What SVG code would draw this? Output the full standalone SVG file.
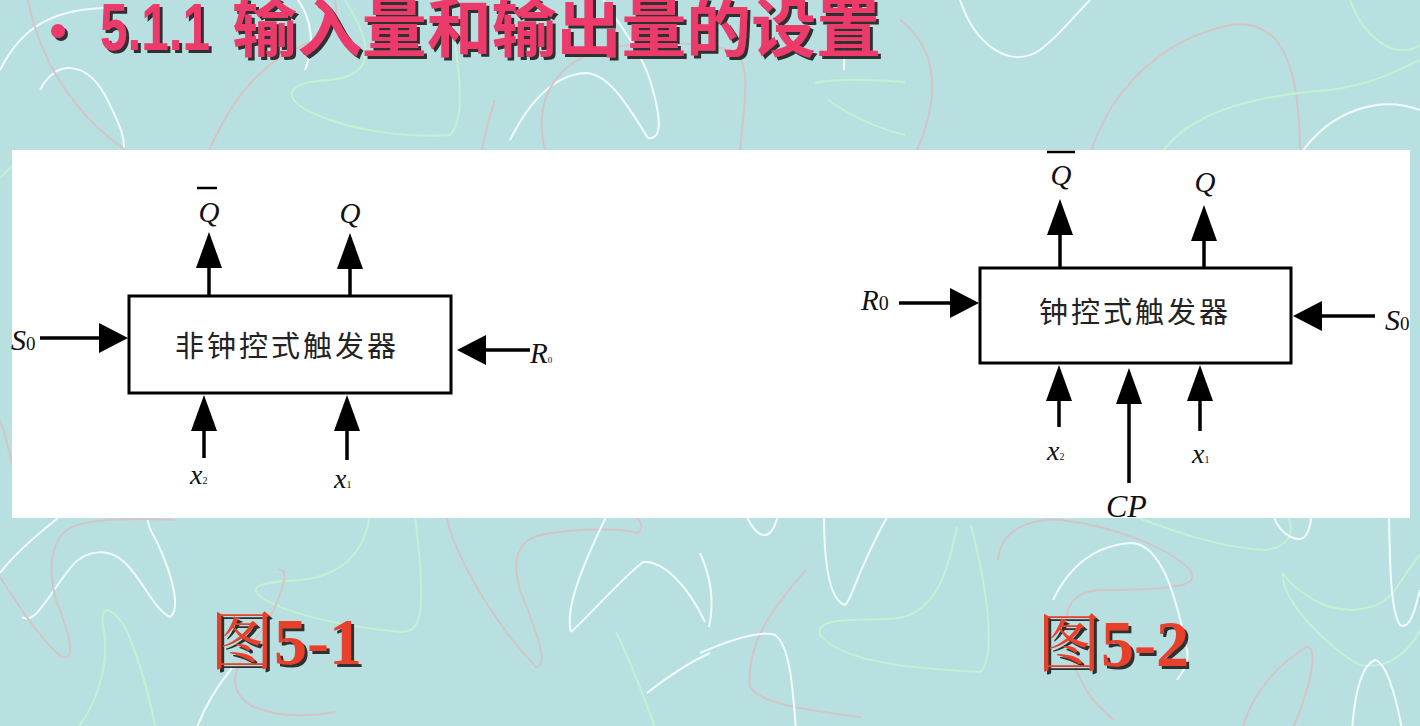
<svg xmlns="http://www.w3.org/2000/svg" width="1420" height="726" viewBox="0 0 1420 726">
  <style>
    .bg-w { fill: none; stroke: #f2fcfc; stroke-width: 2; }
    .bg-p { fill: none; stroke: #d3c5c5; stroke-width: 2; }
    .bg-g { fill: none; stroke: #c3f2d2; stroke-width: 2; }
    .title { font-family: "Liberation Sans", "Noto Sans CJK SC", sans-serif; font-weight: 700; fill: #ec3b6b; }
    .caption { font-weight: 700; fill: #e8402a; }
    .cap-cjk { font-family: "Noto Serif CJK SC", "Noto Sans CJK SC", serif; font-weight: 400; font-size: 64px; }
    .cap-num { font-family: "Liberation Serif", serif; font-size: 66px; }
    .box { fill: #ffffff; stroke: #000; stroke-width: 3; }
    .box-text { font-family: "Noto Sans CJK SC", sans-serif; font-size: 29px; fill: #222; letter-spacing: 3px; }
    .wire { stroke: #000; stroke-width: 3.5; fill: none; }
    .wv { marker-end: url(#head-v); }
    .wh { marker-end: url(#head-h); }
    .sym { font-family: "Liberation Serif", serif; font-style: italic; fill: #111; }
    .sub { font-family: "Liberation Serif", serif; font-style: normal; fill: #111; }
    .bar { stroke: #000; stroke-width: 2.5; }
  </style>
  <defs>
    <marker id="head-v" markerUnits="userSpaceOnUse" markerWidth="36" markerHeight="26" viewBox="0 0 36 26" refX="30" refY="13" orient="auto">
      <path d="M0,0 L36,13 L0,26 Z" fill="#000"/>
    </marker>
    <marker id="head-h" markerUnits="userSpaceOnUse" markerWidth="29" markerHeight="30" viewBox="0 0 29 30" refX="23" refY="15" orient="auto">
      <path d="M0,0 L29,15 L0,30 Z" fill="#000"/>
    </marker>
    <filter id="shadow" x="-5%" y="-20%" width="115%" height="150%">
      <feDropShadow dx="3" dy="3" stdDeviation="0.7" flood-color="#1e1e1e" flood-opacity="0.9"/>
    </filter>
  </defs>

  <!-- page background with loose decorative loops -->
  <rect x="0" y="0" width="1420" height="726" fill="#b8e0e1"/>
  <g id="backdrop">
    <path class="bg-w" d="M0,70 C20,30 50,5 125,8"/>
    <path class="bg-w" d="M40,90 C55,60 85,60 105,95 C120,125 128,140 122,160"/>
    <path class="bg-p" d="M28,0 C40,60 70,110 125,150"/>
    <path class="bg-p" d="M205,160 C230,100 260,60 315,40 C330,35 340,25 335,0"/>
    <path class="bg-w" d="M305,70 C315,45 312,20 298,0"/>
    <path class="bg-g" d="M345,0 C370,40 380,75 330,80 C290,82 278,95 310,112 C350,130 400,138 450,135 C465,120 462,80 448,0"/>
    <path class="bg-w" d="M510,140 C530,100 555,75 585,73 C610,73 630,110 648,138 C662,140 662,120 650,80 C640,50 620,25 603,0"/>
    <path class="bg-p" d="M480,160 C485,130 490,115 495,100"/>
    <path class="bg-p" d="M545,150 C535,110 545,60 615,47 C660,40 720,42 738,55 C750,70 745,100 740,150"/>
    <path class="bg-g" d="M815,83 C840,78 870,80 905,82"/>
    <path class="bg-g" d="M828,100 C850,115 875,128 905,135"/>
    <path class="bg-w" d="M850,0 C846,25 844,45 844,70"/>
    <path class="bg-w" d="M960,0 C975,45 1010,70 1040,50 C1060,35 1075,15 1090,0"/>
    <path class="bg-p" d="M1090,155 C1110,90 1160,40 1230,25 C1280,18 1300,60 1300,155"/>
    <path class="bg-g" d="M1160,155 C1190,110 1260,95 1330,90 C1370,85 1400,70 1420,60"/>
    <path class="bg-w" d="M1300,155 C1330,110 1380,95 1420,110"/>
    <path class="bg-p" d="M915,155 C940,100 940,50 900,20"/>
    <path class="bg-g" d="M1350,0 C1365,40 1395,60 1420,45"/>
    <path class="bg-g" d="M0,178 C5,172 10,168 14,165"/>
    <path class="bg-p" d="M0,420 C8,440 10,460 14,470"/>
    <path class="bg-w" d="M0,573 C10,560 30,540 58,518"/>
    <path class="bg-w" d="M22,617 C35,625 45,600 71,567 C85,550 110,545 129,567 C145,585 155,610 170,617 C180,610 175,580 156,540 C150,530 148,525 147,515"/>
    <path class="bg-p" d="M0,577 C15,600 40,640 62,657 C75,660 72,640 56,600 C48,570 50,540 70,528 C90,518 140,518 175,520"/>
    <path class="bg-g" d="M76,730 C100,700 110,660 103,625 C100,605 110,605 125,627 C140,660 150,700 156,730"/>
    <path class="bg-g" d="M370,515 C365,545 350,575 300,580 C265,582 245,585 262,598 C290,615 350,628 402,632 C425,632 425,600 415,515"/>
    <path class="bg-p" d="M277,570 C290,565 285,590 268,620 C250,650 215,680 250,705 C280,720 320,715 335,712"/>
    <path class="bg-w" d="M196,730 C205,705 218,685 232,668"/>
    <path class="bg-p" d="M446,515 C455,560 500,630 536,667 C548,665 540,640 520,590 C512,560 515,540 545,534 C580,528 620,528 638,533 C645,528 640,520 634,515"/>
    <path class="bg-w" d="M571,632 C565,610 580,570 607,515"/>
    <path class="bg-w" d="M571,632 C590,615 620,580 643,562 C665,560 690,590 705,622"/>
    <path class="bg-g" d="M616,632 C630,660 645,700 656,730"/>
    <path class="bg-w" d="M647,693 C670,675 690,662 710,653"/>
    <path class="bg-w" d="M746,515 C755,535 770,548 778,515"/>
    <path class="bg-w" d="M824,515 C824,560 829,600 845,605 C852,600 853,580 888,515"/>
    <path class="bg-g" d="M957,527 C950,560 940,610 900,618 C860,622 815,615 820,635 C840,660 900,668 980,672 C995,660 990,600 971,525"/>
    <path class="bg-p" d="M998,560 C1000,530 1030,518 1060,520 C1110,525 1170,548 1190,570 C1200,585 1180,590 1100,590 C1070,592 1060,610 1070,650 C1080,690 1100,710 1115,720"/>
    <path class="bg-w" d="M1053,600 C1070,565 1095,545 1132,543 C1160,545 1175,590 1187,650 C1190,665 1180,675 1177,680"/>
    <path class="bg-g" d="M1136,517 C1170,530 1220,548 1265,550 C1290,548 1295,530 1288,517"/>
    <path class="bg-w" d="M1274,517 C1280,535 1300,545 1306,535 C1310,528 1311,520 1311,517"/>
    <path class="bg-g" d="M1283,573 C1290,585 1310,600 1330,607 C1360,615 1385,605 1395,590 C1405,575 1415,560 1420,555"/>
    <path class="bg-g" d="M1283,573 C1280,600 1330,650 1360,665 C1390,670 1410,650 1420,630"/>
    <path class="bg-w" d="M1389,518 C1390,560 1390,610 1400,625 C1410,630 1415,610 1420,590"/>
    <path class="bg-w" d="M1352,730 C1355,690 1362,665 1375,660 C1385,662 1395,690 1402,730"/>
    <path class="bg-p" d="M1242,730 C1250,700 1270,670 1306,647 C1320,645 1310,690 1292,730"/>
    <path class="bg-w" d="M700,553 C710,575 715,600 709,627"/>
    <path class="bg-p" d="M806,570 C780,600 745,640 750,687 C760,705 820,712 861,717"/>
    <path class="bg-w" d="M700,653 C730,640 760,630 775,635 C790,645 793,690 796,730"/>
  </g>

  <!-- heading -->
  <g id="heading" filter="url(#shadow)">
    <circle cx="58" cy="31" r="7" fill="#ec3b6b"/>
    <text class="title" x="100" y="50" font-size="66" textLength="110" lengthAdjust="spacingAndGlyphs">5.1.1</text>
    <text class="title" x="232" y="51" font-size="64" textLength="649" lengthAdjust="spacingAndGlyphs" style="font-family:'Noto Sans CJK SC', sans-serif">输入量和输出量的设置</text>
  </g>

  <!-- white drawing panel -->
  <rect x="12" y="150" width="1398" height="368" fill="#ffffff"/>

  <!-- connectors -->
  <g id="connectors">
    <!-- non-clocked flip-flop -->
    <line class="wire wv" x1="209" y1="296" x2="209" y2="238"/>
    <line class="wire wv" x1="350" y1="296" x2="350" y2="239"/>
    <line class="wire wh" x1="40" y1="338" x2="122" y2="338"/>
    <line class="wire wh" x1="530" y1="350" x2="463" y2="350"/>
    <line class="wire wv" x1="204" y1="458" x2="204" y2="401"/>
    <line class="wire wv" x1="347" y1="460" x2="347" y2="401"/>
    <!-- clocked flip-flop -->
    <line class="wire wv" x1="1060" y1="267" x2="1060" y2="205"/>
    <line class="wire wv" x1="1204" y1="267" x2="1204" y2="211"/>
    <line class="wire wh" x1="899" y1="303" x2="973" y2="303"/>
    <line class="wire wh" x1="1375" y1="316" x2="1299" y2="316"/>
    <line class="wire wv" x1="1059" y1="427" x2="1059" y2="371"/>
    <line class="wire wv" x1="1129" y1="483" x2="1129" y2="374"/>
    <line class="wire wv" x1="1200" y1="431" x2="1200" y2="371"/>
  </g>

  <!-- Fig 5-1: non-clocked flip-flop -->
  <g id="ff-nonclocked">
    <rect class="box" x="129" y="296" width="322" height="97"/>
    <text class="box-text" x="287" y="357" text-anchor="middle">非钟控式触发器</text>
  </g>
  <g id="ff1-labels">
    <line class="bar" x1="197" y1="188" x2="217" y2="188"/>
    <text class="sym" x="209" y="222" font-size="29" text-anchor="middle">Q</text>
    <text class="sym" x="350" y="223" font-size="29" text-anchor="middle">Q</text>
    <text class="sym" x="11" y="350" font-size="30">S<tspan class="sub" font-size="19">0</tspan></text>
    <text class="sym" x="530" y="363" font-size="29">R<tspan class="sub" font-size="9">0</tspan></text>
    <text class="sym" x="190" y="484" font-size="28">x<tspan class="sub" font-size="10">2</tspan></text>
    <text class="sym" x="334" y="488" font-size="28">x<tspan class="sub" font-size="10">1</tspan></text>
  </g>
  <g id="caption-5-1" filter="url(#shadow)">
    <text class="caption" x="210" y="664"><tspan class="cap-cjk">图</tspan><tspan class="cap-num">5-1</tspan></text>
  </g>

  <!-- Fig 5-2: clocked flip-flop -->
  <g id="ff-clocked">
    <rect class="box" x="980" y="268" width="311" height="95"/>
    <text class="box-text" x="1135" y="323" text-anchor="middle">钟控式触发器</text>
  </g>
  <g id="ff2-labels">
    <line class="bar" x1="1047" y1="152" x2="1075" y2="152"/>
    <text class="sym" x="1061" y="185" font-size="29" text-anchor="middle">Q</text>
    <text class="sym" x="1205" y="192" font-size="29" text-anchor="middle">Q</text>
    <text class="sym" x="861" y="310" font-size="29">R<tspan class="sub" font-size="20">0</tspan></text>
    <text class="sym" x="1385" y="330" font-size="30">S<tspan class="sub" font-size="19">0</tspan></text>
    <text class="sym" x="1047" y="460" font-size="28">x<tspan class="sub" font-size="10">2</tspan></text>
    <text class="sym" x="1192" y="463" font-size="28">x<tspan class="sub" font-size="10">1</tspan></text>
    <text class="sym" x="1106" y="517" font-size="32">CP</text>
  </g>
  <g id="caption-5-2" filter="url(#shadow)">
    <text class="caption" x="1037" y="666"><tspan class="cap-cjk">图</tspan><tspan class="cap-num">5-2</tspan></text>
  </g>
</svg>
